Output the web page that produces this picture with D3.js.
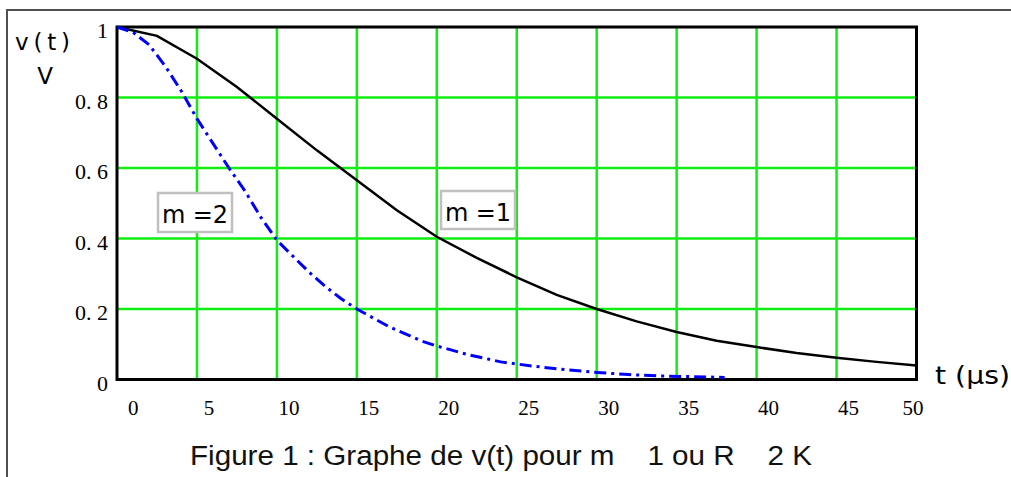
<!DOCTYPE html>
<html>
<head>
<meta charset="utf-8">
<script src="https://cdn.jsdelivr.net/npm/d3@7"></script>
<style>
  body { margin: 0; background: #fff; }
  svg { display: block; }
  text { white-space: pre; }
</style>
</head>
<body>
<div id="chart"></div>
<script>
// Data
var tM1 = [0, 2.5, 5, 7.5, 10, 12.5, 15, 17.5, 20, 22.5, 25, 27.5, 30, 32.5, 35, 37.5, 40, 42.5, 45, 47.5, 50];
var vM1 = [1, 0.975, 0.91, 0.83, 0.74, 0.65, 0.565, 0.48, 0.405, 0.345, 0.29, 0.24, 0.20, 0.165, 0.135, 0.11, 0.092, 0.075, 0.062, 0.05, 0.04];

var tM2 = [0, 1, 2, 3, 4, 5, 6, 7, 8, 9, 10, 11, 12, 13, 14, 15, 16, 17, 18, 19, 20, 22, 24, 26, 28, 30, 32, 34, 36, 38];
var vM2 = [1, 0.985, 0.95, 0.89, 0.82, 0.74, 0.67, 0.60, 0.535, 0.46, 0.395, 0.35, 0.305, 0.265, 0.23, 0.20, 0.175, 0.15, 0.13, 0.11, 0.095, 0.07, 0.05, 0.038, 0.028, 0.02, 0.014, 0.01, 0.008, 0.006];

var xTicks = [0, 5, 10, 15, 20, 25, 30, 35, 40, 45, 50];
var yTicks = [0, 0.2, 0.4, 0.6, 0.8, 1];
var yTickLabels = ["0", "0. 2", "0. 4", "0. 6", "0. 8", "1"];

var w = 1011;
var h = 477;

var x = d3.scaleLinear().domain([0, 50]).range([117, 916.5]);
var y = d3.scaleLinear().domain([0, 1]).range([379.5, 27]);

var svg = d3.select("#chart")
    .append("svg")
    .attr("width", w)
    .attr("height", h);

// outer frame
svg.append("path")
    .attr("d", "M7,477 L7,10 L1011,10")
    .attr("fill", "none")
    .attr("stroke", "#505050")
    .attr("stroke-width", 2);

// grid
svg.append("g").selectAll("line")
    .data(xTicks.slice(1, -1))
    .enter()
    .append("line")
    .attr("x1", function (d) { return x(d); })
    .attr("x2", function (d) { return x(d); })
    .attr("y1", y(1))
    .attr("y2", y(0))
    .attr("stroke", "#11ee11")
    .attr("stroke-width", 2.5);

svg.append("g").selectAll("line")
    .data(yTicks.slice(1, -1))
    .enter()
    .append("line")
    .attr("x1", x(0))
    .attr("x2", x(50))
    .attr("y1", function (d) { return y(d); })
    .attr("y2", function (d) { return y(d); })
    .attr("stroke", "#11ee11")
    .attr("stroke-width", 2.5);

// plot frame
svg.append("rect")
    .attr("x", x(0))
    .attr("y", y(1))
    .attr("width", x(50) - x(0))
    .attr("height", y(0) - y(1))
    .attr("fill", "none")
    .attr("stroke", "#000")
    .attr("stroke-width", 3);

// curves
var line = d3.line()
    .x(function (d) { return x(d[0]); })
    .y(function (d) { return y(d[1]); });

svg.append("path")
    .datum(d3.zip(tM1, vM1))
    .attr("d", line)
    .attr("fill", "none")
    .attr("stroke", "#000")
    .attr("stroke-width", 2.5);

svg.append("path")
    .datum(d3.zip(tM2, vM2))
    .attr("d", line)
    .attr("fill", "none")
    .attr("stroke", "#0000ff")
    .attr("stroke-width", 3)
    .attr("stroke-dasharray", "12,5,3,5");

// tick labels
var serif = "'Liberation Serif', 'Times New Roman', serif";

svg.append("g").selectAll("text")
    .data(yTicks)
    .enter()
    .append("text")
    .attr("x", 108)
    .attr("y", function (d) { return y(d) + 11; })
    .attr("text-anchor", "end")
    .style("font-family", serif)
    .style("font-size", "22px")
    .text(function (d, i) { return yTickLabels[i]; });

svg.append("g").selectAll("text")
    .data(xTicks)
    .enter()
    .append("text")
    .attr("x", function (d) {
        if (d === 0) return x(d) + 11;
        if (d === 50) return x(d) + 7;
        return x(d) + 12;
    })
    .attr("y", 415)
    .attr("text-anchor", function (d) { return d === 0 ? "start" : (d === 50 ? "end" : "middle"); })
    .style("font-family", serif)
    .style("font-size", "21px")
    .text(function (d) { return d; });

// axis titles
var sans = "'DejaVu Sans', Verdana, sans-serif";

svg.append("text")
    .attr("x", 15).attr("y", 50)
    .attr("textLength", 55).attr("lengthAdjust", "spacing")
    .style("font-family", sans).style("font-size", "23px")
    .text("v(t)");

svg.append("text")
    .attr("x", 45).attr("y", 84)
    .attr("text-anchor", "middle")
    .style("font-family", sans).style("font-size", "23px")
    .text("V");

svg.append("text")
    .attr("x", 935).attr("y", 384)
    .attr("textLength", 75).attr("lengthAdjust", "spacingAndGlyphs")
    .style("font-family", sans).style("font-size", "25px")
    .text("t (µs)");

// curve labels
var labels = [
    { text: "m =2", x0: 158, y0: 193, w: 74, h: 39 },
    { text: "m =1", x0: 441, y0: 191, w: 74, h: 38 }
];

var lab = svg.append("g").selectAll("g")
    .data(labels)
    .enter()
    .append("g");

lab.append("rect")
    .attr("x", function (d) { return d.x0; })
    .attr("y", function (d) { return d.y0; })
    .attr("width", function (d) { return d.w; })
    .attr("height", function (d) { return d.h; })
    .attr("fill", "#fff")
    .attr("stroke", "#c0c0c0")
    .attr("stroke-width", 2.5);

lab.append("text")
    .attr("x", function (d) { return d.x0 + 4; })
    .attr("y", function (d) { return d.y0 + 30; })
    .attr("textLength", 66).attr("lengthAdjust", "spacing")
    .style("font-family", sans).style("font-size", "24px")
    .text(function (d) { return d.text; });

// caption
svg.append("text")
    .attr("x", 190).attr("y", 465)
    .attr("textLength", 622).attr("lengthAdjust", "spacingAndGlyphs")
    .style("font-family", "'Liberation Sans', Arial, sans-serif")
    .style("font-size", "27px")
    .style("fill", "#111")
    .text("Figure 1 : Graphe de v(t) pour m    1 ou R    2 K");
</script>
</body>
</html>
